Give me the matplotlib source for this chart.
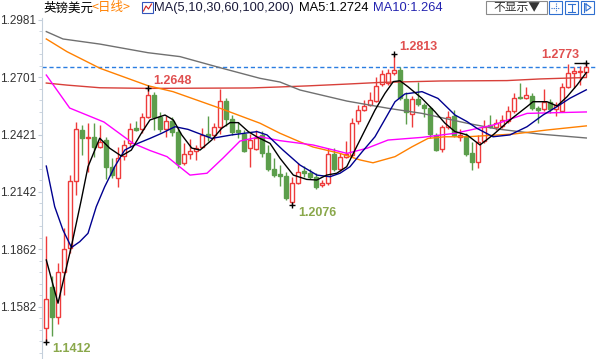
import numpy as np
import matplotlib as mpl
import matplotlib.pyplot as plt
from matplotlib.patches import Rectangle
from matplotlib.ticker import FixedLocator, AutoMinorLocator

mpl.rcParams["font.family"] = ["Liberation Sans", "Noto Sans CJK SC", "DejaVu Sans"]
mpl.rcParams["axes.unicode_minus"] = False

# ------------------------------------------------------------------
# 日线 K 线数据
# ------------------------------------------------------------------
opens = [1.1478, 1.1678, 1.1532, 1.1751, 1.1868, 1.2195, 1.2444, 1.2405, 1.2410, 1.2361,
         1.2395, 1.2263, 1.2210, 1.2317, 1.2381, 1.2454, 1.2449, 1.2507, 1.2615, 1.2507,
         1.2449, 1.2488, 1.2434, 1.2283, 1.2327, 1.2342, 1.2361, 1.2424, 1.2420, 1.2459,
         1.2585, 1.2498, 1.2444, 1.2424, 1.2356, 1.2351, 1.2420, 1.2332, 1.2254, 1.2229,
         1.2220, 1.2093, 1.2185, 1.2244, 1.2234, 1.2215, 1.2176, 1.2185, 1.2327, 1.2254,
         1.2312, 1.2322, 1.2488, 1.2542, 1.2566, 1.2585, 1.2668, 1.2673, 1.2722, 1.2737,
         1.2595, 1.2522, 1.2595, 1.2566, 1.2551, 1.2420, 1.2351, 1.2459, 1.2512, 1.2410,
         1.2415, 1.2332, 1.2288, 1.2390, 1.2468, 1.2459, 1.2463, 1.2488, 1.2537, 1.2605,
         1.2600, 1.2610, 1.2551, 1.2546, 1.2581, 1.2546, 1.2537, 1.2654, 1.2722, 1.2727,
         1.2727]
highs = [1.1927, 1.1732, 1.1795, 1.1966, 1.2224, 1.2483, 1.2468, 1.2478, 1.2478, 1.2468,
         1.2410, 1.2307, 1.2361, 1.2395, 1.2478, 1.2488, 1.2527, 1.2648, 1.2629, 1.2532,
         1.2512, 1.2507, 1.2454, 1.2381, 1.2400, 1.2371, 1.2454, 1.2512, 1.2478, 1.2644,
         1.2600, 1.2517, 1.2483, 1.2444, 1.2424, 1.2444, 1.2439, 1.2371, 1.2307, 1.2273,
         1.2239, 1.2215, 1.2283, 1.2268, 1.2254, 1.2234, 1.2200, 1.2356, 1.2356, 1.2332,
         1.2390, 1.2502, 1.2566, 1.2590, 1.2629, 1.2702, 1.2737, 1.2742, 1.2813, 1.2751,
         1.2629, 1.2610, 1.2678, 1.2576, 1.2561, 1.2429, 1.2468, 1.2537, 1.2542, 1.2449,
         1.2429, 1.2385, 1.2420, 1.2493, 1.2517, 1.2498, 1.2517, 1.2561, 1.2624, 1.2673,
         1.2654, 1.2624, 1.2561, 1.2644, 1.2595, 1.2581, 1.2673, 1.2766, 1.2751, 1.2756,
         1.2773]
lows = [1.1412, 1.1439, 1.1498, 1.1639, 1.1844, 1.2127, 1.2322, 1.2239, 1.2312, 1.2356,
        1.2205, 1.2210, 1.2166, 1.2298, 1.2361, 1.2439, 1.2429, 1.2502, 1.2444, 1.2434,
        1.2410, 1.2415, 1.2259, 1.2273, 1.2302, 1.2298, 1.2356, 1.2390, 1.2395, 1.2424,
        1.2463, 1.2420, 1.2405, 1.2337, 1.2263, 1.2346, 1.2312, 1.2244, 1.2215, 1.2171,
        1.2103, 1.2076, 1.2181, 1.2215, 1.2205, 1.2156, 1.2166, 1.2176, 1.2244, 1.2244,
        1.2307, 1.2312, 1.2473, 1.2537, 1.2561, 1.2581, 1.2659, 1.2663, 1.2712, 1.2590,
        1.2473, 1.2459, 1.2561, 1.2507, 1.2405, 1.2342, 1.2337, 1.2449, 1.2410, 1.2390,
        1.2317, 1.2249, 1.2259, 1.2381, 1.2454, 1.2444, 1.2454, 1.2478, 1.2527, 1.2595,
        1.2595, 1.2542, 1.2478, 1.2537, 1.2527, 1.2512, 1.2532, 1.2649, 1.2649, 1.2663,
        1.2703]
closes = [1.1620, 1.1532, 1.1751, 1.1863, 1.2195, 1.2449, 1.2405, 1.2410, 1.2361, 1.2385,
          1.2263, 1.2224, 1.2307, 1.2371, 1.2449, 1.2444, 1.2507, 1.2615, 1.2507, 1.2449,
          1.2488, 1.2434, 1.2278, 1.2327, 1.2342, 1.2356, 1.2420, 1.2415, 1.2459, 1.2585,
          1.2498, 1.2434, 1.2434, 1.2342, 1.2395, 1.2405, 1.2332, 1.2254, 1.2224, 1.2220,
          1.2112, 1.2185, 1.2239, 1.2234, 1.2215, 1.2166, 1.2185, 1.2327, 1.2254, 1.2312,
          1.2327, 1.2478, 1.2542, 1.2561, 1.2590, 1.2659, 1.2717, 1.2722, 1.2737, 1.2600,
          1.2532, 1.2595, 1.2571, 1.2551, 1.2424, 1.2346, 1.2459, 1.2507, 1.2420, 1.2420,
          1.2327, 1.2288, 1.2385, 1.2459, 1.2459, 1.2478, 1.2493, 1.2537, 1.2600, 1.2600,
          1.2615, 1.2551, 1.2542, 1.2581, 1.2546, 1.2566, 1.2654, 1.2722, 1.2732, 1.2732,
          1.2749]

# 均线 (读图取样点: K 线序号, 数值)
ma5_idx = [0, 1.95, 4.17, 5.83, 6.95, 8.9, 10.57, 12.5, 14.17, 15.83, 17.28, 19.78, 21.17,
           22.57, 24.23, 25.62, 27.57, 29.23, 30.62, 32, 33.67, 35.12, 37.28, 38.95, 41.17,
           43.4, 45.07, 46.73, 48.4, 50.07, 51.73, 53.12, 54.78, 56.45, 57.83, 58.95, 60.28,
           62.57, 64.78, 66.45, 68.12, 70.12, 72.28, 74.45, 77.28, 80.12, 81.12, 83.45,
           85.12, 86.78, 88.45, 90]
ma5_val = [1.1810, 1.1599, 1.1875, 1.2103, 1.2265, 1.2404, 1.2355, 1.2317, 1.2346, 1.2428,
           1.2493, 1.2517, 1.2493, 1.2420, 1.2356, 1.2346, 1.2395, 1.2452, 1.2480, 1.2480,
           1.2436, 1.2410, 1.2379, 1.2306, 1.2224, 1.2203, 1.2200, 1.2224, 1.2233, 1.2265,
           1.2363, 1.2444, 1.2541, 1.2623, 1.2680, 1.2684, 1.2655, 1.2599, 1.2533, 1.2477,
           1.2436, 1.2420, 1.2371, 1.2420, 1.2493, 1.2558, 1.2582, 1.2582, 1.2561, 1.2606,
           1.2663, 1.2724]
ma10_idx = [0, 1.4, 2.78, 4.2, 5.57, 6.95, 8.33, 9.73, 11.4, 13.07, 15.28, 17.28, 19.23,
            21.45, 23.62, 27.57, 30.9, 35.12, 36.78, 39.45, 42.28, 45.12, 47.28, 48.95,
            50.62, 52.62, 54.78, 58.12, 59.78, 62.62, 65.28, 68.12, 70.12, 71.78, 74.45,
            77.28, 80.12, 82.78, 85.12, 87.28, 90]
ma10_val = [1.2268, 1.2070, 1.1956, 1.1871, 1.1899, 1.1940, 1.2070, 1.2167, 1.2265, 1.2346,
            1.2379, 1.2403, 1.2428, 1.2460, 1.2447, 1.2403, 1.2420, 1.2436, 1.2420, 1.2346,
            1.2273, 1.2224, 1.2216, 1.2233, 1.2265, 1.2337, 1.2411, 1.2582, 1.2620, 1.2631,
            1.2598, 1.2517, 1.2485, 1.2452, 1.2411, 1.2420, 1.2460, 1.2517, 1.2558, 1.2599,
            1.2640]
ma30_idx = [0, 3.9, 9.6, 14.45, 17.28, 20.12, 23.95, 26.78, 29.45, 32.28, 35.62, 38.95,
            44.45, 50.12, 53.45, 56.95, 62.62, 68.12, 74.45, 80.12, 90]
ma30_val = [1.2712, 1.2551, 1.2483, 1.2379, 1.2344, 1.2314, 1.2224, 1.2233, 1.2307, 1.2390,
            1.2411, 1.2392, 1.2371, 1.2330, 1.2355, 1.2395, 1.2408, 1.2428, 1.2468, 1.2525,
            1.2532]
ma60_idx = [0, 3.45, 8.95, 16.95, 21.12, 28.95, 35.62, 38.95, 42.28, 44.45, 48.95, 52.28,
            54.45, 58.12, 60.95, 63.62, 66.45, 70.12, 77.78, 83.45, 90]
ma60_val = [1.2888, 1.2826, 1.2745, 1.2660, 1.2631, 1.2550, 1.2477, 1.2428, 1.2386, 1.2361,
            1.2330, 1.2298, 1.2284, 1.2314, 1.2362, 1.2403, 1.2411, 1.2411, 1.2424, 1.2444,
            1.2464]
ma100_idx = [0, 2.78, 8.95, 16.95, 22.28, 28.95, 35.62, 38.95, 42.28, 50.12, 56.95, 62.62,
             70.12, 75.12, 82.28, 90]
ma100_val = [1.2924, 1.2888, 1.2863, 1.2821, 1.2802, 1.2748, 1.2696, 1.2678, 1.2639, 1.2585,
             1.2550, 1.2525, 1.2477, 1.2449, 1.2424, 1.2405]
ma200_idx = [0, 3.45, 8.95, 16.95, 34, 38.95, 43.45, 50.12, 55.62, 65.62, 76.78, 82.28, 90]
ma200_val = [1.2673, 1.2663, 1.2650, 1.2647, 1.2649, 1.2654, 1.2659, 1.2668, 1.2676, 1.2683,
             1.2685, 1.2693, 1.2700]

# 高低点标注: (K 线序号, 类型)
marks = [(0, "low"), (17, "high"), (41, "low"), (58, "high"), (90, "high")]

y_ticks = [1.1582, 1.1862, 1.2142, 1.2421, 1.2701, 1.2981]

UP = "#ee3b3b"
DOWN = "#5c9e4c"

# ------------------------------------------------------------------
fig = plt.figure(figsize=(5.97, 3.59), dpi=100)
ax = fig.add_axes([42 / 597, 0, 555 / 597, 341 / 359])

x = np.arange(len(opens))
o = np.array(opens)
h = np.array(highs)
l = np.array(lows)
c = np.array(closes)
up = c >= o

ax.vlines(x[up], l[up], h[up], color=UP, lw=1, zorder=2)
ax.vlines(x[~up], l[~up], h[~up], color=DOWN, lw=1, zorder=2)
body_lo = np.minimum(o, c)
body_h = np.maximum(np.abs(c - o), 0.00005)
ax.bar(x[up], body_h[up], bottom=body_lo[up], width=0.68,
       facecolor="white", edgecolor=UP, linewidth=1, zorder=3)
ax.bar(x[~up], body_h[~up], bottom=body_lo[~up], width=0.68,
       facecolor=DOWN, edgecolor=DOWN, linewidth=1, zorder=3)

# 均线
ax.plot(ma200_idx, ma200_val, color="#d8403a", lw=1, zorder=4)
ax.plot(ma100_idx, ma100_val, color="#707070", lw=1, zorder=4)
ax.plot(ma60_idx, ma60_val, color="#ff8000", lw=1, zorder=4)
ax.plot(ma30_idx, ma30_val, color="#ff00ff", lw=1, zorder=4)
ax.plot(ma10_idx, ma10_val, color="#000090", lw=1, zorder=5)
ax.plot(ma5_idx, ma5_val, color="black", lw=1, zorder=5)

# 最新价虚线
ax.axhline(closes[-1], color="#2a7de1", lw=1, ls=(0, (3, 2)), zorder=1)

# 高低点
for i, kind in marks:
    if kind == "high":
        val = highs[i]
        col = "#e05050"
    else:
        val = lows[i]
        col = "#8aa84b"
    ax.plot(i, val, marker="+", color="black", ms=5, mew=1, zorder=6)
    if i == len(opens) - 1:
        ax.hlines(val, i - 2.1, i + 0.2, color="black", lw=1, zorder=6)
        ax.annotate(f"{val:.4f}", (i, val), xytext=(-5, 5.5), textcoords="offset points",
                    ha="right", va="center", color=col, fontsize=9, fontweight="bold")
    elif kind == "high":
        ax.annotate(f"{val:.4f}", (i, val), xytext=(3.5, 5.5), textcoords="offset points",
                    ha="left", va="center", color=col, fontsize=9, fontweight="bold")
    else:
        ax.annotate(f"{val:.4f}", (i, val), xytext=(4, -5.5), textcoords="offset points",
                    ha="left", va="center", color=col, fontsize=9, fontweight="bold")

ax.set_xlim((42 - 46.3) / 6, (597 - 46.3) / 6)
ax.set_ylim(1.13269, 1.29903)

axis_col = "#c4cfdb"
for s in ["top", "right", "bottom"]:
    ax.spines[s].set_visible(False)
ax.spines["left"].set_color(axis_col)
ax.set_xticks([])
ax.yaxis.set_major_locator(FixedLocator(y_ticks))
ax.yaxis.set_minor_locator(AutoMinorLocator(5))
ax.set_yticklabels([f"{v:.4f}" for v in y_ticks])
ax.tick_params(axis="y", which="major", length=3, color=axis_col, labelsize=8.5,
               labelcolor="#333333", pad=1)
ax.tick_params(axis="y", which="minor", length=2, color=axis_col)

# ------------------------------------------------------------------
# 顶部标题栏
# ------------------------------------------------------------------
hdr = fig.add_axes([0, 0, 1, 1])
hdr.set_xlim(0, 597)
hdr.set_ylim(359, 0)
hdr.axis("off")

cjk = ["Noto Sans CJK SC", "DejaVu Sans"]
hdr.text(43, 8, "英镑美元", family=cjk, fontsize=9, va="center", color="black")
hdr.text(92, 8, "<日线>", family=cjk, fontsize=9, va="center", color="#ff8000")
hdr.add_patch(Rectangle((142, 2), 11, 11, fill=False, ec="#3355bb", lw=0.8))
hdr.plot([143.5, 146, 148.5, 151.5], [11, 6, 9, 4], color="#cc2222", lw=0.8)
hdr.text(154, 8, "MA(5,10,30,60,100,200)", fontsize=9.3, va="center", color="#1a1a3a")
hdr.text(299, 8, "MA5:1.2724", fontsize=9.3, va="center", color="black")
hdr.text(373, 8, "MA10:1.264", fontsize=9.3, va="center", color="#2323b0")

hdr.add_patch(Rectangle((486, 0.5), 61, 13.5, fill=False, ec="#8a8a8a", lw=0.8))
hdr.text(516.5, 7.5, "不显示▼", family=cjk, fontsize=8.5, va="center", ha="center",
         color="#333333")
for bx in [549, 565, 581]:
    hdr.add_patch(Rectangle((bx, 0.5), 13, 13, fill=False, ec="#2f6fd0", lw=0.8))
hdr.plot([555.5, 555.5], [3, 12], color="#2f6fd0", lw=0.8, ls=(0, (1, 1)))
hdr.plot([551, 560], [7.5, 7.5], color="#2f6fd0", lw=0.8, ls=(0, (1, 1)))
hdr.plot([568, 575], [3.5, 3.5], color="#2f6fd0", lw=0.8)
hdr.plot([571.5, 571.5], [3.5, 11.5], color="#2f6fd0", lw=0.8)
hdr.plot([568, 575], [11.5, 11.5], color="#2f6fd0", lw=0.8)
hdr.plot([584, 584], [3, 12], color="#2f6fd0", lw=0.8)
hdr.plot([586, 591, 586, 586], [4, 7.5, 11, 4], color="#2f6fd0", lw=0.8)

fig.savefig("out.png", dpi=100)
plt.close(fig)
